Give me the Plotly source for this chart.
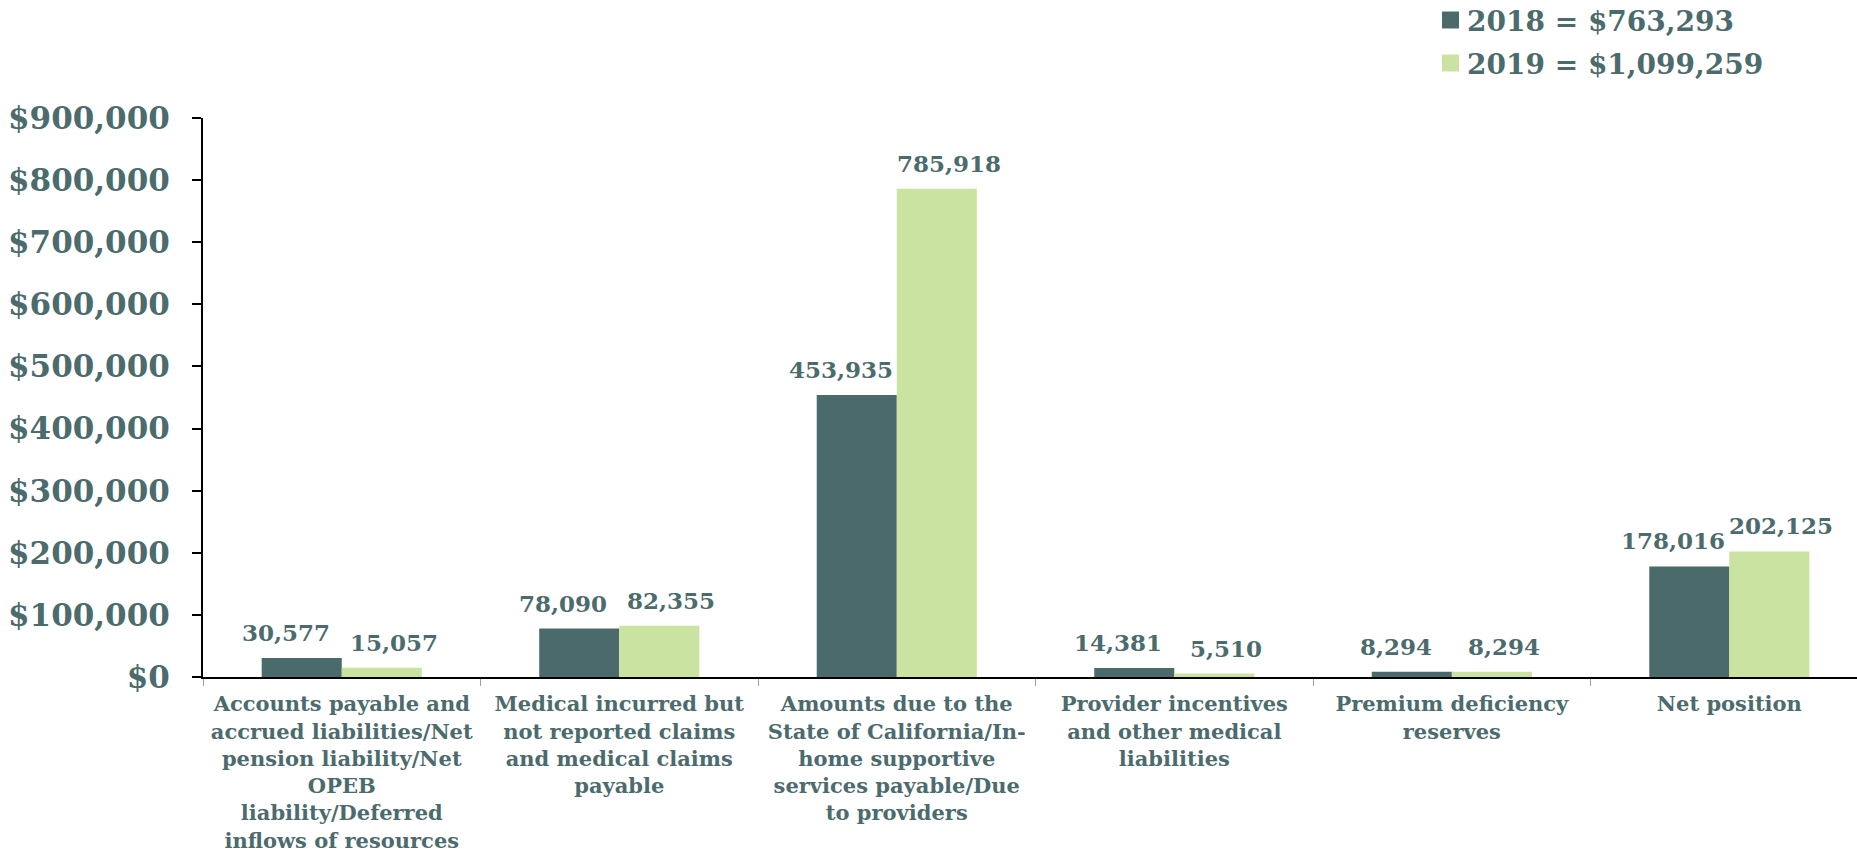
import plotly.graph_objects as go

categories = [
    "Accounts payable and accrued liabilities/Net pension liability/Net OPEB liability/Deferred inflows of resources",
    "Medical incurred but not reported claims and medical claims payable",
    "Amounts due to the State of California/In-home supportive services payable/Due to providers",
    "Provider incentives and other medical liabilities",
    "Premium deficiency reserves",
    "Net position",
]
tick_labels = [
    "Accounts payable and<br>accrued liabilities/Net<br>pension liability/Net<br>OPEB<br>liability/Deferred<br>inflows of resources",
    "Medical incurred but<br>not reported claims<br>and medical claims<br>payable",
    "Amounts due to the<br>State of California/In-<br>home supportive<br>services payable/Due<br>to providers",
    "Provider incentives<br>and other medical<br>liabilities",
    "Premium deficiency<br>reserves",
    "Net position",
]
values_2018 = [30577, 78090, 453935, 14381, 8294, 178016]
values_2019 = [15057, 82355, 785918, 5510, 8294, 202125]
series_names = ["2018 = $763,293", "2019 = $1,099,259"]
y_ticks = [0, 100000, 200000, 300000, 400000, 500000, 600000, 700000, 800000, 900000]

TEXT = "#4B6B6D"
DARK = "#4A6A6B"
LIGHT = "#CBE3A0"
FONT = "DejaVu Serif"
colors = [DARK, LIGHT]
label_xshift = [-56, 52]   # px, label offset from category centre (Excel-style spread)

W, H = 1857, 856
L, R, T, B = 203, 0, 118, 179
plot_h = H - T - B

fig = go.Figure()
for name, vals, col, xs in zip(series_names, [values_2018, values_2019], colors, label_xshift):
    fig.add_trace(go.Bar(
        x=categories, y=vals, name=name, marker_color=col, marker_line_width=0,
        showlegend=False,
    ))
    for c, v in zip(categories, vals):
        fig.add_annotation(x=c, y=v, xref="x", yref="y", text=f"{v:,}", showarrow=False,
                           xanchor="center", yanchor="bottom", xshift=xs, yshift=10,
                           font=dict(family=FONT, size=23, color=TEXT, weight="bold"))

# custom legend (positions in paper coordinates)
def py_to_paper(py):
    return (H - B - py) / plot_h

def px_to_paper(px):
    return (px - L) / (W - L - R)

for i, (name, col) in enumerate(zip(series_names, colors)):
    cy = 20 + 43 * i
    fig.add_shape(type="rect", xref="paper", yref="paper",
                  x0=px_to_paper(1442), x1=px_to_paper(1459),
                  y0=py_to_paper(cy + 8.5), y1=py_to_paper(cy - 8.5),
                  fillcolor=col, line_width=0)
    fig.add_annotation(xref="paper", yref="paper", x=px_to_paper(1465), y=py_to_paper(cy + 1),
                       xanchor="left", yanchor="middle", showarrow=False, text=name,
                       font=dict(family=FONT, size=28, color=TEXT, weight="bold"))

fig.update_layout(
    width=W, height=H,
    margin=dict(l=L, r=R, t=T, b=B, autoexpand=False),
    paper_bgcolor="white", plot_bgcolor="white",
    barmode="group", bargap=0.423, bargroupgap=0,
    showlegend=False,
    font=dict(family=FONT, color=TEXT),
)
fig.update_xaxes(
    tickvals=categories, ticktext=tick_labels, tickson="boundaries", tickangle=0,
    range=[-0.5, 5.46], automargin=False, ticklabelstandoff=7,
    ticks="outside", ticklen=7, tickcolor="#A0A0A0", tickwidth=1,
    showline=True, linecolor="black", linewidth=2,
    tickfont=dict(family=FONT, size=21, color=TEXT, weight="bold"),
    showgrid=False,
)
fig.update_yaxes(
    range=[0, 900000], tickvals=y_ticks, tickformat="$,.0f", automargin=False,
    ticks="outside", ticklen=9, tickcolor="black", tickwidth=2,
    showline=True, linecolor="black", linewidth=2,
    tickfont=dict(family=FONT, size=31, color=TEXT, weight="bold"),
    showgrid=False, zeroline=False, ticklabelstandoff=16,
)

fig.write_html("out.html", config={"displayModeBar": False},
               post_script="document.body.style.margin='0';document.body.style.overflow='hidden';")
